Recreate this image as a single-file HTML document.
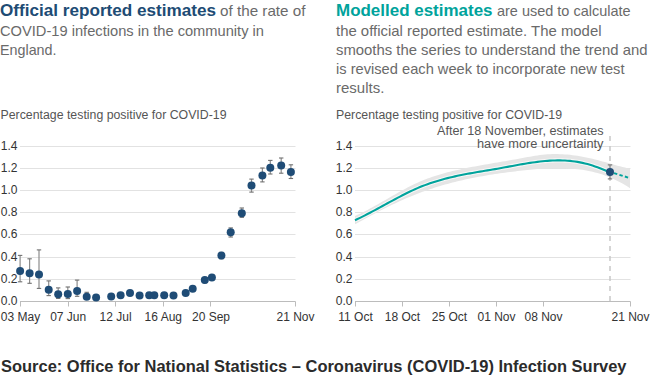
<!DOCTYPE html>
<html><head><meta charset="utf-8"><style>
html,body{margin:0;padding:0;background:#fff;width:659px;height:380px;overflow:hidden}
svg{display:block;font-family:"Liberation Sans", sans-serif}
</style></head><body>
<svg width="659" height="380" viewBox="0 0 659 380">
<text x="0" y="16.2" font-size="17" font-weight="bold" fill="#204b74" text-anchor="start" textLength="216" lengthAdjust="spacingAndGlyphs">Official reported estimates</text>
<text x="220" y="16.2" font-size="15" font-weight="normal" fill="#6a6a6a" text-anchor="start" textLength="85.5" lengthAdjust="spacingAndGlyphs">of the rate of</text>
<text x="0" y="35.9" font-size="15" font-weight="normal" fill="#6a6a6a" text-anchor="start" textLength="264" lengthAdjust="spacingAndGlyphs">COVID-19 infections in the community in</text>
<text x="0" y="55.1" font-size="15" font-weight="normal" fill="#6a6a6a" text-anchor="start" textLength="56.5" lengthAdjust="spacingAndGlyphs">England.</text>
<text x="336" y="16.2" font-size="17" font-weight="bold" fill="#00a39c" text-anchor="start" textLength="156.5" lengthAdjust="spacingAndGlyphs">Modelled estimates</text>
<text x="497" y="16.2" font-size="15" font-weight="normal" fill="#6a6a6a" text-anchor="start" textLength="133.5" lengthAdjust="spacingAndGlyphs">are used to calculate</text>
<text x="336" y="35.9" font-size="15" font-weight="normal" fill="#6a6a6a" text-anchor="start" textLength="265.5" lengthAdjust="spacingAndGlyphs">the official reported estimate. The model</text>
<text x="336" y="55.1" font-size="15" font-weight="normal" fill="#6a6a6a" text-anchor="start" textLength="311.5" lengthAdjust="spacingAndGlyphs">smooths the series to understand the trend and</text>
<text x="336" y="74.2" font-size="15" font-weight="normal" fill="#6a6a6a" text-anchor="start" textLength="288.5" lengthAdjust="spacingAndGlyphs">is revised each week to incorporate new test</text>
<text x="336" y="93.0" font-size="15" font-weight="normal" fill="#6a6a6a" text-anchor="start">results.</text>
<text x="0.5" y="119.1" font-size="12" font-weight="normal" fill="#555555" text-anchor="start" textLength="226" lengthAdjust="spacingAndGlyphs">Percentage testing positive for COVID-19</text>
<text x="336" y="119.1" font-size="12" font-weight="normal" fill="#555555" text-anchor="start" textLength="226" lengthAdjust="spacingAndGlyphs">Percentage testing positive for COVID-19</text>
<line x1="20" y1="279.5" x2="295.5" y2="279.5" stroke="#e2e2e2" stroke-width="1"/>
<line x1="20" y1="257.5" x2="295.5" y2="257.5" stroke="#e2e2e2" stroke-width="1"/>
<line x1="20" y1="234.5" x2="295.5" y2="234.5" stroke="#e2e2e2" stroke-width="1"/>
<line x1="20" y1="212.5" x2="295.5" y2="212.5" stroke="#e2e2e2" stroke-width="1"/>
<line x1="20" y1="190.5" x2="295.5" y2="190.5" stroke="#e2e2e2" stroke-width="1"/>
<line x1="20" y1="168.5" x2="295.5" y2="168.5" stroke="#e2e2e2" stroke-width="1"/>
<line x1="20" y1="146.5" x2="295.5" y2="146.5" stroke="#e2e2e2" stroke-width="1"/>
<text x="17.5" y="304.8" font-size="12" font-weight="normal" fill="#333333" text-anchor="end">0.0</text>
<text x="17.5" y="282.8" font-size="12" font-weight="normal" fill="#333333" text-anchor="end">0.2</text>
<text x="17.5" y="260.8" font-size="12" font-weight="normal" fill="#333333" text-anchor="end">0.4</text>
<text x="17.5" y="237.8" font-size="12" font-weight="normal" fill="#333333" text-anchor="end">0.6</text>
<text x="17.5" y="215.8" font-size="12" font-weight="normal" fill="#333333" text-anchor="end">0.8</text>
<text x="17.5" y="193.8" font-size="12" font-weight="normal" fill="#333333" text-anchor="end">1.0</text>
<text x="17.5" y="171.8" font-size="12" font-weight="normal" fill="#333333" text-anchor="end">1.2</text>
<text x="17.5" y="149.8" font-size="12" font-weight="normal" fill="#333333" text-anchor="end">1.4</text>
<line x1="20" y1="301.5" x2="295.5" y2="301.5" stroke="#bcbcbc" stroke-width="1"/>
<line x1="355" y1="279.5" x2="630.5" y2="279.5" stroke="#e2e2e2" stroke-width="1"/>
<line x1="355" y1="257.5" x2="630.5" y2="257.5" stroke="#e2e2e2" stroke-width="1"/>
<line x1="355" y1="234.5" x2="630.5" y2="234.5" stroke="#e2e2e2" stroke-width="1"/>
<line x1="355" y1="212.5" x2="630.5" y2="212.5" stroke="#e2e2e2" stroke-width="1"/>
<line x1="355" y1="190.5" x2="630.5" y2="190.5" stroke="#e2e2e2" stroke-width="1"/>
<line x1="355" y1="168.5" x2="630.5" y2="168.5" stroke="#e2e2e2" stroke-width="1"/>
<line x1="355" y1="146.5" x2="630.5" y2="146.5" stroke="#e2e2e2" stroke-width="1"/>
<text x="352.5" y="304.8" font-size="12" font-weight="normal" fill="#333333" text-anchor="end">0.0</text>
<text x="352.5" y="282.8" font-size="12" font-weight="normal" fill="#333333" text-anchor="end">0.2</text>
<text x="352.5" y="260.8" font-size="12" font-weight="normal" fill="#333333" text-anchor="end">0.4</text>
<text x="352.5" y="237.8" font-size="12" font-weight="normal" fill="#333333" text-anchor="end">0.6</text>
<text x="352.5" y="215.8" font-size="12" font-weight="normal" fill="#333333" text-anchor="end">0.8</text>
<text x="352.5" y="193.8" font-size="12" font-weight="normal" fill="#333333" text-anchor="end">1.0</text>
<text x="352.5" y="171.8" font-size="12" font-weight="normal" fill="#333333" text-anchor="end">1.2</text>
<text x="352.5" y="149.8" font-size="12" font-weight="normal" fill="#333333" text-anchor="end">1.4</text>
<line x1="355" y1="301.5" x2="630.5" y2="301.5" stroke="#bcbcbc" stroke-width="1"/>
<line x1="20.5" y1="301.5" x2="20.5" y2="306.5" stroke="#bcbcbc" stroke-width="1"/>
<text x="20.5" y="320.5" font-size="12" font-weight="normal" fill="#333333" text-anchor="middle">03 May</text>
<line x1="68.5" y1="301.5" x2="68.5" y2="306.5" stroke="#bcbcbc" stroke-width="1"/>
<text x="68.2" y="320.5" font-size="12" font-weight="normal" fill="#333333" text-anchor="middle">07 Jun</text>
<line x1="115.5" y1="301.5" x2="115.5" y2="306.5" stroke="#bcbcbc" stroke-width="1"/>
<text x="115.6" y="320.5" font-size="12" font-weight="normal" fill="#333333" text-anchor="middle">12 Jul</text>
<line x1="163.5" y1="301.5" x2="163.5" y2="306.5" stroke="#bcbcbc" stroke-width="1"/>
<text x="163.3" y="320.5" font-size="12" font-weight="normal" fill="#333333" text-anchor="middle">16 Aug</text>
<line x1="210.5" y1="301.5" x2="210.5" y2="306.5" stroke="#bcbcbc" stroke-width="1"/>
<text x="211.0" y="320.5" font-size="12" font-weight="normal" fill="#333333" text-anchor="middle">20 Sep</text>
<line x1="295.5" y1="301.5" x2="295.5" y2="306.5" stroke="#bcbcbc" stroke-width="1"/>
<text x="295.5" y="320.5" font-size="12" font-weight="normal" fill="#333333" text-anchor="middle">21 Nov</text>
<line x1="355.5" y1="301.5" x2="355.5" y2="306.5" stroke="#bcbcbc" stroke-width="1"/>
<text x="355.5" y="320.5" font-size="12" font-weight="normal" fill="#333333" text-anchor="middle">11 Oct</text>
<line x1="402.5" y1="301.5" x2="402.5" y2="306.5" stroke="#bcbcbc" stroke-width="1"/>
<text x="402.5" y="320.5" font-size="12" font-weight="normal" fill="#333333" text-anchor="middle">18 Oct</text>
<line x1="449.5" y1="301.5" x2="449.5" y2="306.5" stroke="#bcbcbc" stroke-width="1"/>
<text x="449.5" y="320.5" font-size="12" font-weight="normal" fill="#333333" text-anchor="middle">25 Oct</text>
<line x1="496.5" y1="301.5" x2="496.5" y2="306.5" stroke="#bcbcbc" stroke-width="1"/>
<text x="496.5" y="320.5" font-size="12" font-weight="normal" fill="#333333" text-anchor="middle">01 Nov</text>
<line x1="543.5" y1="301.5" x2="543.5" y2="306.5" stroke="#bcbcbc" stroke-width="1"/>
<text x="543.5" y="320.5" font-size="12" font-weight="normal" fill="#333333" text-anchor="middle">08 Nov</text>
<line x1="630.5" y1="301.5" x2="630.5" y2="306.5" stroke="#bcbcbc" stroke-width="1"/>
<text x="630.5" y="320.5" font-size="12" font-weight="normal" fill="#333333" text-anchor="middle">21 Nov</text>
<line x1="20.1" y1="255.4" x2="20.1" y2="281.8" stroke="#8c8c8c" stroke-width="1.2"/>
<line x1="17.900000000000002" y1="255.4" x2="22.3" y2="255.4" stroke="#707070" stroke-width="1.1"/>
<line x1="17.900000000000002" y1="281.8" x2="22.3" y2="281.8" stroke="#707070" stroke-width="1.1"/>
<line x1="29.6" y1="258.79999999999995" x2="29.6" y2="283.3" stroke="#8c8c8c" stroke-width="1.2"/>
<line x1="27.400000000000002" y1="258.79999999999995" x2="31.8" y2="258.79999999999995" stroke="#707070" stroke-width="1.1"/>
<line x1="27.400000000000002" y1="283.3" x2="31.8" y2="283.3" stroke="#707070" stroke-width="1.1"/>
<line x1="39" y1="249.9" x2="39" y2="288.40000000000003" stroke="#8c8c8c" stroke-width="1.2"/>
<line x1="36.8" y1="249.9" x2="41.2" y2="249.9" stroke="#707070" stroke-width="1.1"/>
<line x1="36.8" y1="288.40000000000003" x2="41.2" y2="288.40000000000003" stroke="#707070" stroke-width="1.1"/>
<line x1="48.7" y1="280.9" x2="48.7" y2="295.6" stroke="#8c8c8c" stroke-width="1.2"/>
<line x1="46.5" y1="280.9" x2="50.900000000000006" y2="280.9" stroke="#707070" stroke-width="1.1"/>
<line x1="46.5" y1="295.6" x2="50.900000000000006" y2="295.6" stroke="#707070" stroke-width="1.1"/>
<line x1="58.2" y1="287.9" x2="58.2" y2="298.40000000000003" stroke="#8c8c8c" stroke-width="1.2"/>
<line x1="56.0" y1="287.9" x2="60.400000000000006" y2="287.9" stroke="#707070" stroke-width="1.1"/>
<line x1="56.0" y1="298.40000000000003" x2="60.400000000000006" y2="298.40000000000003" stroke="#707070" stroke-width="1.1"/>
<line x1="67.8" y1="287.0" x2="67.8" y2="298.6" stroke="#8c8c8c" stroke-width="1.2"/>
<line x1="65.6" y1="287.0" x2="70.0" y2="287.0" stroke="#707070" stroke-width="1.1"/>
<line x1="65.6" y1="298.6" x2="70.0" y2="298.6" stroke="#707070" stroke-width="1.1"/>
<line x1="77.1" y1="280.09999999999997" x2="77.1" y2="296.3" stroke="#8c8c8c" stroke-width="1.2"/>
<line x1="74.89999999999999" y1="280.09999999999997" x2="79.3" y2="280.09999999999997" stroke="#707070" stroke-width="1.1"/>
<line x1="74.89999999999999" y1="296.3" x2="79.3" y2="296.3" stroke="#707070" stroke-width="1.1"/>
<line x1="86.7" y1="292.29999999999995" x2="86.7" y2="298.8" stroke="#8c8c8c" stroke-width="1.2"/>
<line x1="84.5" y1="292.29999999999995" x2="88.9" y2="292.29999999999995" stroke="#707070" stroke-width="1.1"/>
<line x1="84.5" y1="298.8" x2="88.9" y2="298.8" stroke="#707070" stroke-width="1.1"/>
<line x1="204.8" y1="277.9" x2="204.8" y2="282.8" stroke="#8c8c8c" stroke-width="1.2"/>
<line x1="202.60000000000002" y1="277.9" x2="207.0" y2="277.9" stroke="#707070" stroke-width="1.1"/>
<line x1="202.60000000000002" y1="282.8" x2="207.0" y2="282.8" stroke="#707070" stroke-width="1.1"/>
<line x1="221.4" y1="252.4" x2="221.4" y2="258.8" stroke="#8c8c8c" stroke-width="1.2"/>
<line x1="219.20000000000002" y1="252.4" x2="223.6" y2="252.4" stroke="#707070" stroke-width="1.1"/>
<line x1="219.20000000000002" y1="258.8" x2="223.6" y2="258.8" stroke="#707070" stroke-width="1.1"/>
<line x1="230.7" y1="227.9" x2="230.7" y2="237.0" stroke="#8c8c8c" stroke-width="1.2"/>
<line x1="228.5" y1="227.9" x2="232.89999999999998" y2="227.9" stroke="#707070" stroke-width="1.1"/>
<line x1="228.5" y1="237.0" x2="232.89999999999998" y2="237.0" stroke="#707070" stroke-width="1.1"/>
<line x1="241.8" y1="208.0" x2="241.8" y2="217.3" stroke="#8c8c8c" stroke-width="1.2"/>
<line x1="239.60000000000002" y1="208.0" x2="244.0" y2="208.0" stroke="#707070" stroke-width="1.1"/>
<line x1="239.60000000000002" y1="217.3" x2="244.0" y2="217.3" stroke="#707070" stroke-width="1.1"/>
<line x1="251.5" y1="179.1" x2="251.5" y2="192.10000000000002" stroke="#8c8c8c" stroke-width="1.2"/>
<line x1="249.3" y1="179.1" x2="253.7" y2="179.1" stroke="#707070" stroke-width="1.1"/>
<line x1="249.3" y1="192.10000000000002" x2="253.7" y2="192.10000000000002" stroke="#707070" stroke-width="1.1"/>
<line x1="262.4" y1="168.0" x2="262.4" y2="181.9" stroke="#8c8c8c" stroke-width="1.2"/>
<line x1="260.2" y1="168.0" x2="264.59999999999997" y2="168.0" stroke="#707070" stroke-width="1.1"/>
<line x1="260.2" y1="181.9" x2="264.59999999999997" y2="181.9" stroke="#707070" stroke-width="1.1"/>
<line x1="270.3" y1="160.4" x2="270.3" y2="174.0" stroke="#8c8c8c" stroke-width="1.2"/>
<line x1="268.1" y1="160.4" x2="272.5" y2="160.4" stroke="#707070" stroke-width="1.1"/>
<line x1="268.1" y1="174.0" x2="272.5" y2="174.0" stroke="#707070" stroke-width="1.1"/>
<line x1="281.2" y1="158.0" x2="281.2" y2="173.20000000000002" stroke="#8c8c8c" stroke-width="1.2"/>
<line x1="279.0" y1="158.0" x2="283.4" y2="158.0" stroke="#707070" stroke-width="1.1"/>
<line x1="279.0" y1="173.20000000000002" x2="283.4" y2="173.20000000000002" stroke="#707070" stroke-width="1.1"/>
<line x1="290.9" y1="164.8" x2="290.9" y2="178.5" stroke="#8c8c8c" stroke-width="1.2"/>
<line x1="288.7" y1="164.8" x2="293.09999999999997" y2="164.8" stroke="#707070" stroke-width="1.1"/>
<line x1="288.7" y1="178.5" x2="293.09999999999997" y2="178.5" stroke="#707070" stroke-width="1.1"/>
<circle cx="20.1" cy="270.9" r="4" fill="#1f4c76"/>
<circle cx="29.6" cy="273.2" r="4" fill="#1f4c76"/>
<circle cx="39" cy="274.5" r="4" fill="#1f4c76"/>
<circle cx="48.7" cy="289.7" r="4" fill="#1f4c76"/>
<circle cx="58.2" cy="294.3" r="4" fill="#1f4c76"/>
<circle cx="67.8" cy="294.1" r="4" fill="#1f4c76"/>
<circle cx="77.1" cy="291" r="4" fill="#1f4c76"/>
<circle cx="86.7" cy="296.7" r="4" fill="#1f4c76"/>
<circle cx="96.1" cy="297.6" r="4" fill="#1f4c76"/>
<circle cx="111.2" cy="296.5" r="4" fill="#1f4c76"/>
<circle cx="120.6" cy="295.3" r="4" fill="#1f4c76"/>
<circle cx="130" cy="292.9" r="4" fill="#1f4c76"/>
<circle cx="139.6" cy="295.5" r="4" fill="#1f4c76"/>
<circle cx="149.2" cy="295.3" r="4" fill="#1f4c76"/>
<circle cx="154.3" cy="295.3" r="4" fill="#1f4c76"/>
<circle cx="164.2" cy="295.3" r="4" fill="#1f4c76"/>
<circle cx="173.5" cy="295.4" r="4" fill="#1f4c76"/>
<circle cx="185.7" cy="293.1" r="4" fill="#1f4c76"/>
<circle cx="192.7" cy="288.7" r="4" fill="#1f4c76"/>
<circle cx="204.8" cy="280" r="4" fill="#1f4c76"/>
<circle cx="211.9" cy="277.6" r="4" fill="#1f4c76"/>
<circle cx="221.4" cy="255.5" r="4" fill="#1f4c76"/>
<circle cx="230.7" cy="232.2" r="4" fill="#1f4c76"/>
<circle cx="241.8" cy="213.3" r="4" fill="#1f4c76"/>
<circle cx="251.5" cy="185.5" r="4" fill="#1f4c76"/>
<circle cx="262.4" cy="175.4" r="4" fill="#1f4c76"/>
<circle cx="270.3" cy="167.8" r="4" fill="#1f4c76"/>
<circle cx="281.2" cy="165.5" r="4" fill="#1f4c76"/>
<circle cx="290.9" cy="172.1" r="4" fill="#1f4c76"/>
<path d="M355.00,215.96 L357.50,214.83 L360.00,213.66 L362.50,212.44 L365.00,211.18 L367.50,209.89 L370.00,208.56 L372.50,207.21 L375.00,205.83 L377.50,204.43 L380.00,203.02 L382.50,201.59 L385.00,200.15 L387.50,198.72 L390.00,197.28 L392.50,195.85 L395.00,194.42 L397.50,193.01 L400.00,191.62 L402.50,190.24 L405.00,188.90 L407.50,187.58 L410.00,186.29 L412.50,185.05 L415.00,183.84 L417.50,182.68 L420.00,181.57 L422.50,180.52 L425.00,179.51 L427.50,178.56 L430.00,177.65 L432.50,176.78 L435.00,175.96 L437.50,175.17 L440.00,174.42 L442.50,173.70 L445.00,173.02 L447.50,172.36 L450.00,171.73 L452.50,171.12 L455.00,170.53 L457.50,169.96 L460.00,169.40 L462.50,168.87 L465.00,168.34 L467.50,167.83 L470.00,167.34 L472.50,166.85 L475.00,166.38 L477.50,165.91 L480.00,165.45 L482.50,165.01 L485.00,164.56 L487.50,164.13 L490.00,163.70 L492.50,163.27 L495.00,162.84 L497.50,162.42 L500.00,161.99 L502.50,161.57 L505.00,161.14 L507.50,160.71 L510.00,160.28 L512.50,159.84 L515.00,159.40 L517.50,158.95 L520.00,158.50 L522.50,158.03 L525.00,157.57 L527.50,157.10 L530.00,156.65 L532.50,156.22 L535.00,155.81 L537.50,155.43 L540.00,155.08 L542.50,154.78 L545.00,154.53 L547.50,154.33 L550.00,154.19 L552.50,154.11 L555.00,154.07 L557.50,154.08 L560.00,154.15 L562.50,154.26 L565.00,154.42 L567.50,154.62 L570.00,154.86 L572.50,155.15 L575.00,155.48 L577.50,155.85 L580.00,156.25 L582.50,156.70 L585.00,157.17 L587.50,157.69 L590.00,158.23 L592.50,158.80 L595.00,159.41 L597.50,160.04 L600.00,160.70 L602.50,161.38 L605.00,162.08 L607.50,162.80 L610.00,163.52 L612.50,164.24 L615.00,164.95 L617.50,165.65 L620.00,166.33 L622.50,166.99 L625.00,167.61 L627.50,168.19 L630.00,168.72 L630.00,188.26 L627.50,186.62 L625.00,185.07 L622.50,183.60 L620.00,182.21 L617.50,180.91 L615.00,179.68 L612.50,178.52 L610.00,177.44 L607.50,176.43 L605.00,175.49 L602.50,174.62 L600.00,173.81 L597.50,173.07 L595.00,172.39 L592.50,171.77 L590.00,171.20 L587.50,170.70 L585.00,170.24 L582.50,169.84 L580.00,169.48 L577.50,169.18 L575.00,168.92 L572.50,168.70 L570.00,168.52 L567.50,168.39 L565.00,168.29 L562.50,168.23 L560.00,168.20 L557.50,168.20 L555.00,168.23 L552.50,168.29 L550.00,168.38 L547.50,168.48 L545.00,168.61 L542.50,168.77 L540.00,168.93 L537.50,169.12 L535.00,169.32 L532.50,169.54 L530.00,169.77 L527.50,170.02 L525.00,170.27 L522.50,170.54 L520.00,170.81 L517.50,171.10 L515.00,171.39 L512.50,171.69 L510.00,172.00 L507.50,172.32 L505.00,172.65 L502.50,172.99 L500.00,173.34 L497.50,173.71 L495.00,174.08 L492.50,174.47 L490.00,174.87 L487.50,175.28 L485.00,175.70 L482.50,176.14 L480.00,176.60 L477.50,177.06 L475.00,177.54 L472.50,178.04 L470.00,178.55 L467.50,179.08 L465.00,179.62 L462.50,180.19 L460.00,180.76 L457.50,181.36 L455.00,181.97 L452.50,182.60 L450.00,183.25 L447.50,183.92 L445.00,184.61 L442.50,185.32 L440.00,186.05 L437.50,186.81 L435.00,187.59 L432.50,188.39 L430.00,189.21 L427.50,190.06 L425.00,190.93 L422.50,191.83 L420.00,192.76 L417.50,193.72 L415.00,194.70 L412.50,195.71 L410.00,196.74 L407.50,197.79 L405.00,198.87 L402.50,199.98 L400.00,201.10 L397.50,202.25 L395.00,203.42 L392.50,204.60 L390.00,205.81 L387.50,207.04 L385.00,208.28 L382.50,209.54 L380.00,210.81 L377.50,212.10 L375.00,213.41 L372.50,214.73 L370.00,216.06 L367.50,217.40 L365.00,218.76 L362.50,220.13 L360.00,221.50 L357.50,222.89 L355.00,224.29 Z" fill="#e5e5e5"/>
<line x1="610" y1="136" x2="610" y2="301" stroke="#c8c8c8" stroke-width="1.5" stroke-dasharray="5,5"/>
<path d="M355.00,220.20 L357.50,219.03 L360.00,217.83 L362.50,216.60 L365.00,215.33 L367.50,214.05 L370.00,212.74 L372.50,211.42 L375.00,210.08 L377.50,208.73 L380.00,207.37 L382.50,206.00 L385.00,204.63 L387.50,203.27 L390.00,201.91 L392.50,200.55 L395.00,199.21 L397.50,197.88 L400.00,196.57 L402.50,195.28 L405.00,194.01 L407.50,192.77 L410.00,191.56 L412.50,190.38 L415.00,189.24 L417.50,188.14 L420.00,187.09 L422.50,186.08 L425.00,185.11 L427.50,184.19 L430.00,183.31 L432.50,182.46 L435.00,181.66 L437.50,180.89 L440.00,180.16 L442.50,179.45 L445.00,178.78 L447.50,178.14 L450.00,177.52 L452.50,176.93 L455.00,176.37 L457.50,175.82 L460.00,175.30 L462.50,174.80 L465.00,174.31 L467.50,173.83 L470.00,173.37 L472.50,172.92 L475.00,172.48 L477.50,172.05 L480.00,171.62 L482.50,171.20 L485.00,170.79 L487.50,170.37 L490.00,169.95 L492.50,169.53 L495.00,169.10 L497.50,168.67 L500.00,168.23 L502.50,167.78 L505.00,167.33 L507.50,166.87 L510.00,166.40 L512.50,165.94 L515.00,165.48 L517.50,165.03 L520.00,164.58 L522.50,164.14 L525.00,163.72 L527.50,163.30 L530.00,162.91 L532.50,162.54 L535.00,162.18 L537.50,161.85 L540.00,161.55 L542.50,161.28 L545.00,161.04 L547.50,160.83 L550.00,160.66 L552.50,160.53 L555.00,160.44 L557.50,160.40 L560.00,160.40 L562.50,160.45 L565.00,160.55 L567.50,160.70 L570.00,160.91 L572.50,161.18 L575.00,161.50 L577.50,161.89 L580.00,162.35 L582.50,162.87 L585.00,163.45 L587.50,164.09 L590.00,164.79 L592.50,165.56 L595.00,166.39 L597.50,167.28 L600.00,168.23 L602.50,169.25 L605.00,170.33 L607.50,171.47 L610.00,172.67" fill="none" stroke="#ffffff" stroke-opacity="0.7" stroke-width="4.2"/>
<path d="M355.00,220.20 L357.50,219.03 L360.00,217.83 L362.50,216.60 L365.00,215.33 L367.50,214.05 L370.00,212.74 L372.50,211.42 L375.00,210.08 L377.50,208.73 L380.00,207.37 L382.50,206.00 L385.00,204.63 L387.50,203.27 L390.00,201.91 L392.50,200.55 L395.00,199.21 L397.50,197.88 L400.00,196.57 L402.50,195.28 L405.00,194.01 L407.50,192.77 L410.00,191.56 L412.50,190.38 L415.00,189.24 L417.50,188.14 L420.00,187.09 L422.50,186.08 L425.00,185.11 L427.50,184.19 L430.00,183.31 L432.50,182.46 L435.00,181.66 L437.50,180.89 L440.00,180.16 L442.50,179.45 L445.00,178.78 L447.50,178.14 L450.00,177.52 L452.50,176.93 L455.00,176.37 L457.50,175.82 L460.00,175.30 L462.50,174.80 L465.00,174.31 L467.50,173.83 L470.00,173.37 L472.50,172.92 L475.00,172.48 L477.50,172.05 L480.00,171.62 L482.50,171.20 L485.00,170.79 L487.50,170.37 L490.00,169.95 L492.50,169.53 L495.00,169.10 L497.50,168.67 L500.00,168.23 L502.50,167.78 L505.00,167.33 L507.50,166.87 L510.00,166.40 L512.50,165.94 L515.00,165.48 L517.50,165.03 L520.00,164.58 L522.50,164.14 L525.00,163.72 L527.50,163.30 L530.00,162.91 L532.50,162.54 L535.00,162.18 L537.50,161.85 L540.00,161.55 L542.50,161.28 L545.00,161.04 L547.50,160.83 L550.00,160.66 L552.50,160.53 L555.00,160.44 L557.50,160.40 L560.00,160.40 L562.50,160.45 L565.00,160.55 L567.50,160.70 L570.00,160.91 L572.50,161.18 L575.00,161.50 L577.50,161.89 L580.00,162.35 L582.50,162.87 L585.00,163.45 L587.50,164.09 L590.00,164.79 L592.50,165.56 L595.00,166.39 L597.50,167.28 L600.00,168.23 L602.50,169.25 L605.00,170.33 L607.50,171.47 L610.00,172.67" fill="none" stroke="#00a39c" stroke-width="2.1"/>
<path d="M614,173.1 L630,178.2" fill="none" stroke="#00a39c" stroke-width="2.0" stroke-dasharray="3.4,2.3"/>
<line x1="610" y1="164.9" x2="610" y2="178.9" stroke="#8c8c8c" stroke-width="1.2"/>
<line x1="607.8" y1="164.9" x2="612.2" y2="164.9" stroke="#707070" stroke-width="1.1"/>
<line x1="607.8" y1="178.9" x2="612.2" y2="178.9" stroke="#707070" stroke-width="1.1"/>
<circle cx="610" cy="172.0" r="4" fill="#1f4c76"/>
<text x="603.5" y="134.7" font-size="12" font-weight="normal" fill="#555555" text-anchor="end" textLength="166.5" lengthAdjust="spacingAndGlyphs">After 18 November, estimates</text>
<text x="603.5" y="147.6" font-size="12" font-weight="normal" fill="#555555" text-anchor="end" textLength="126.5" lengthAdjust="spacingAndGlyphs">have more uncertainty</text>
<text x="1" y="371.6" font-size="16.3" font-weight="bold" fill="#2b2b2b" text-anchor="start" textLength="625.5" lengthAdjust="spacingAndGlyphs">Source: Office for National Statistics – Coronavirus (COVID-19) Infection Survey</text>
</svg>
</body></html>
